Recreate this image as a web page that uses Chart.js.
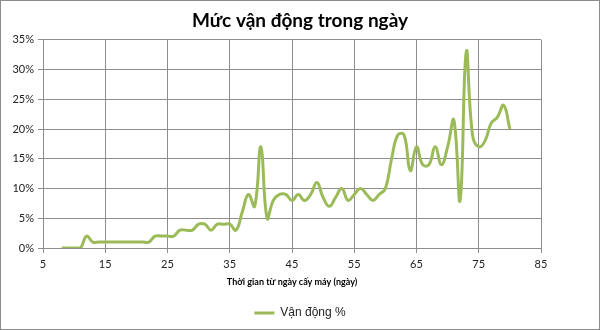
<!DOCTYPE html>
<html>
<head>
<meta charset="utf-8">
<script src="https://cdn.jsdelivr.net/npm/chart.js@4.4.0/dist/chart.umd.min.js"></script>
<style>
  html, body { margin: 0; padding: 0; background: #fff; }
  #wrap { width: 598px; height: 328px; border: 1px solid #8c8c8c; }
</style>
</head>
<body>
<div id="wrap"><canvas id="chart" width="598" height="328"></canvas></div>
<script>
// ngày (trục x) và mức vận động (%)
var days = [8, 9, 10, 11, 12, 13, 14, 15, 16, 17, 18, 19, 20, 21, 22, 23, 24, 25, 26, 27,
            28, 29, 30, 31, 32, 33, 34, 35, 36, 37, 38, 39, 40, 41, 42, 43, 44, 45, 46, 47,
            48, 49, 50, 51, 52, 53, 54, 55, 56, 57, 58, 59, 60, 61, 62, 63, 64, 65, 66, 67,
            68, 69, 70, 71, 72, 73, 74, 75, 76, 77, 78, 79, 80];
var activity = [0, 0, 0, 0, 2, 1, 1, 1, 1, 1, 1, 1, 1, 1, 1, 2, 2, 2, 2, 3,
                3, 3, 4, 4, 3, 4, 4, 4, 3, 6, 9, 7, 17, 5, 8, 9, 9, 8, 9, 8,
                9, 11, 8.5, 7, 8.5, 10, 8, 9, 10, 9, 8, 9, 10, 15, 19, 19, 13, 17, 14, 14,
                17, 14, 17, 21.5, 8, 33, 19, 17, 18, 21, 22, 24, 20];
var seriesName = "Vận động %";
var chartTitle = "Mức vận động trong ngày";
var xTitle = "Thời gian từ ngày cấy máy (ngày)";

var points = days.map(function (d, i) { return { x: d, y: activity[i] }; });
var green = '#9bbb59';
var gridColor = '#8e8e8e';

var ctx = document.getElementById('chart');
var chart = new Chart(ctx, {
    type: 'scatter',
    data: {
        datasets: [{
            label: seriesName,
            data: points,
            showLine: true,
            borderColor: green,
            backgroundColor: green,
            borderWidth: 3,
            pointRadius: 0,
            tension: 0.45,
            fill: false
        }]
    },
    options: {
        responsive: false,
        animation: false,
        layout: { padding: 0 },
        plugins: {
            title: {
                display: true,
                text: chartTitle,
                color: '#000',
                font: { family: 'Lato', size: 19, weight: 'bold' },
                padding: { top: 8, bottom: 8 }
            },
            legend: {
                display: true,
                position: 'bottom',
                labels: {
                    color: '#222',
                    font: { family: 'Liberation Sans', size: 12 },
                    boxWidth: 20,
                    boxHeight: 3,
                    padding: 10,
                    generateLabels: function (c) {
                        var items = Chart.defaults.plugins.legend.labels.generateLabels(c);
                        items.forEach(function (it) { it.lineWidth = 0; it.fillStyle = green; });
                        return items;
                    }
                }
            },
            tooltip: { enabled: false }
        },
        scales: {
            x: {
                type: 'linear',
                min: 5,
                max: 85,
                ticks: {
                    stepSize: 10,
                    color: '#222',
                    font: { family: 'Lato', size: 11 },
                    padding: 5
                },
                grid: { color: gridColor, tickLength: 5 },
                border: { color: gridColor },
                title: {
                    display: true,
                    text: xTitle,
                    color: '#000',
                    font: { family: 'Lato', size: 9, weight: 'bold' },
                    padding: { top: 0, bottom: 10 }
                }
            },
            y: {
                min: 0,
                max: 35,
                afterFit: function (scale) { scale.width = 42; },
                ticks: {
                    stepSize: 5,
                    color: '#222',
                    font: { family: 'Lato', size: 11 },
                    padding: 4,
                    callback: function (v) { return v + '%'; }
                },
                grid: { color: gridColor, tickLength: 5 },
                border: { color: gridColor }
            },
            // empty space on the right, keeps title and legend centred on the whole chart
            spacer: {
                type: 'linear',
                position: 'right',
                afterFit: function (scale) { scale.width = 58; },
                ticks: { display: false },
                grid: { display: false },
                border: { display: false }
            }
        }
    }
});
</script>
</body>
</html>
